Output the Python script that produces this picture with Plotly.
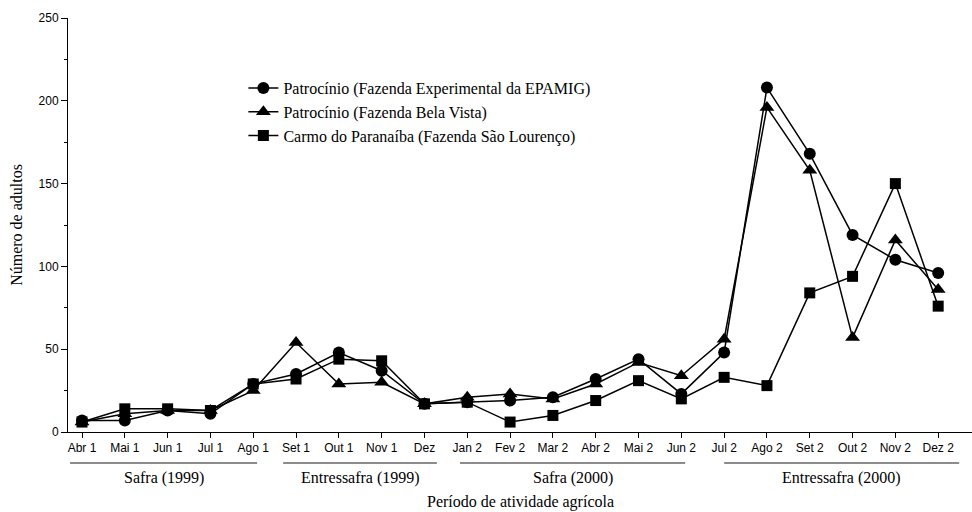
import plotly.graph_objects as go

months = ["Abr 1", "Mai 1", "Jun 1", "Jul 1", "Ago 1", "Set 1", "Out 1", "Nov 1", "Dez",
          "Jan 2", "Fev 2", "Mar 2", "Abr 2", "Mai 2", "Jun 2", "Jul 2", "Ago 2", "Set 2",
          "Out 2", "Nov 2", "Dez 2"]

epamig = [7, 7, 13, 11, 29, 35, 48, 37, 17, 18, 19, 21, 32, 44, 23, 48, 208, 168, 119, 104, 96]
bela_vista = [6, 11, 13, 13, 25, 54, 29, 30, 17, 21, 23, 20, 29, 42, 34, 56, 196, 158, 57, 116, 86]
sao_lourenco = [6, 14, 14, 13, 29, 32, 44, 43, 17, 18, 6, 10, 19, 31, 20, 33, 28, 84, 94, 150, 76]

series_names = ["Patrocínio (Fazenda Experimental da EPAMIG)",
                "Patrocínio (Fazenda Bela Vista)",
                "Carmo do Paranaíba (Fazenda São Lourenço)"]

# period groups: (label, first month index, last month index)
groups = [("Safra (1999)", 0, 4), ("Entressafra (1999)", 5, 8),
          ("Safra (2000)", 9, 14), ("Entressafra (2000)", 15, 20)]
group_pads = [(0.28, 0.09), (0.3, 0.29), (0.17, 0.09), (0.0, 0.49)]

x = list(range(len(months)))
SERIF = "Liberation Serif, Times New Roman, serif"
SANS = "Liberation Sans, Arial, sans-serif"

fig = go.Figure()
for name, vals, sym, size in [(series_names[0], epamig, "circle", 12),
                              (series_names[1], bela_vista, "triangle-up", 13),
                              (series_names[2], sao_lourenco, "square", 11)]:
    fig.add_trace(go.Scatter(
        x=x, y=vals, name=name, mode="lines+markers",
        line=dict(color="black", width=1.5),
        marker=dict(symbol=sym, size=size, color="black"),
    ))

shapes = []
annotations = []
for (label, i0, i1), (p0, p1) in zip(groups, group_pads):
    x0, x1 = i0 - p0, i1 + p1
    shapes.append(dict(type="line", xref="x", yref="paper", x0=x0, x1=x1,
                       y0=-0.075, y1=-0.075, line=dict(color="#666666", width=1.5)))
    annotations.append(dict(x=(x0 + x1) / 2, y=-0.112, xref="x", yref="paper",
                            text=label, showarrow=False, yanchor="middle",
                            font=dict(family=SERIF, size=16, color="black")))
annotations.append(dict(x=0.5, y=-0.169, xref="paper", yref="paper",
                        text="Período de atividade agrícola", showarrow=False,
                        yanchor="middle",
                        font=dict(family=SERIF, size=16, color="black")))

fig.update_layout(
    width=972, height=512,
    margin=dict(l=68, r=0, t=18, b=80),
    paper_bgcolor="white", plot_bgcolor="white",
    showlegend=True,
    legend=dict(x=0.194, y=0.872, xanchor="left", yanchor="top",
                font=dict(family=SERIF, size=16, color="black"),
                bgcolor="rgba(0,0,0,0)", itemwidth=30, tracegroupgap=0),
    shapes=shapes, annotations=annotations,
    xaxis=dict(
        range=[-0.327, 20.79], tickmode="array", tickvals=x, ticktext=months,
        showgrid=False, zeroline=False, showline=True, linecolor="black", linewidth=1,
        ticks="outside", ticklen=5, tickcolor="black", automargin=False,
        tickfont=dict(family=SANS, size=12, color="black"),
    ),
    yaxis=dict(
        range=[0, 250], dtick=50, showgrid=False, zeroline=False,
        showline=True, linecolor="black", linewidth=1, automargin=False,
        ticks="outside", ticklen=6, tickcolor="black",
        minor=dict(dtick=25, ticks="outside", ticklen=3, tickcolor="black", showgrid=False),
        tickfont=dict(family=SANS, size=12, color="black"),
        title=dict(text="Número de adultos", standoff=11,
                   font=dict(family=SERIF, size=16, color="black")),
    ),
)

fig.write_html("out.html", config={"displayModeBar": False},
               post_script="document.body.style.margin='0px';document.body.style.overflow='hidden';")
